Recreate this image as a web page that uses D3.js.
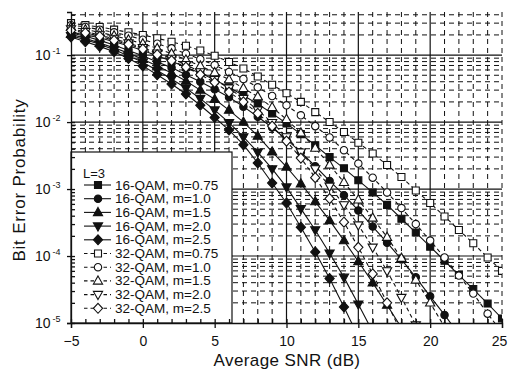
<!DOCTYPE html>
<html>
<head>
<meta charset="utf-8">
<script src="https://cdn.jsdelivr.net/npm/d3@7"></script>
<style>
  body { margin: 0; background: #fff; }
  svg { display: block; font-family: "Liberation Sans", Arial, sans-serif; }
</style>
</head>
<body>
<div id="chart"></div>
<script>
// average SNR in dB, one point per dB
var snrDb = [-5, -4, -3, -2, -1, 0, 1, 2, 3, 4, 5, 6, 7, 8, 9, 10,
             11, 12, 13, 14, 15, 16, 17, 18, 19, 20, 21, 22, 23, 24, 25];

// bit error probability (starting at -5 dB)
var ber16m075 = [2.2e-1, 2.0e-1, 1.82e-1, 1.58e-1, 1.38e-1, 1.17e-1, 9.8e-2, 8.1e-2, 6.6e-2, 5.4e-2,
                 4.3e-2, 3.3e-2, 2.5e-2, 1.86e-2, 1.35e-2, 9.5e-3, 6.6e-3, 4.5e-3, 3.0e-3, 2.04e-3,
                 1.35e-3, 8.9e-4, 5.8e-4, 3.6e-4, 2.24e-4, 1.38e-4, 8.5e-5, 5.2e-5, 3.2e-5, 1.95e-5, 1.17e-5];
var ber16m10 = [2.14e-1, 1.91e-1, 1.66e-1, 1.41e-1, 1.17e-1, 9.8e-2, 7.9e-2, 6.5e-2, 5.1e-2, 4.0e-2,
                3.1e-2, 2.34e-2, 1.70e-2, 1.20e-2, 8.3e-3, 5.5e-3, 3.55e-3, 2.19e-3, 1.32e-3, 8.1e-4,
                4.8e-4, 2.75e-4, 1.58e-4, 8.9e-5, 4.8e-5, 2.5e-5, 1.32e-5, 6.8e-6];
var ber16m15 = [2.04e-1, 1.78e-1, 1.51e-1, 1.29e-1, 1.07e-1, 8.7e-2, 6.9e-2, 5.4e-2, 4.1e-2, 3.0e-2,
                2.19e-2, 1.51e-2, 1.0e-2, 6.2e-3, 3.6e-3, 2.14e-3, 1.2e-3, 6.5e-4, 3.4e-4, 1.7e-4,
                8.3e-5, 4.0e-5, 1.86e-5, 8.5e-6];
var ber16m20 = [1.95e-1, 1.70e-1, 1.45e-1, 1.20e-1, 9.8e-2, 7.8e-2, 5.9e-2, 4.4e-2, 3.2e-2, 2.24e-2,
                1.51e-2, 9.8e-3, 6.0e-3, 3.55e-3, 2.0e-3, 1.07e-3, 5.1e-4, 2.45e-4, 1.1e-4, 4.8e-5,
                1.91e-5, 7.4e-6];
var ber16m25 = [1.86e-1, 1.58e-1, 1.35e-1, 1.12e-1, 8.9e-2, 6.9e-2, 5.1e-2, 3.7e-2, 2.63e-2, 1.78e-2,
                1.17e-2, 7.6e-3, 4.6e-3, 2.45e-3, 1.23e-3, 6.2e-4, 2.69e-4, 1.15e-4, 4.6e-5, 1.74e-5,
                6.2e-6];
var ber32m075 = [3.0e-1, 2.8e-1, 2.63e-1, 2.4e-1, 2.19e-1, 2.0e-1, 1.78e-1, 1.58e-1, 1.38e-1, 1.17e-1,
                 9.8e-2, 7.9e-2, 6.3e-2, 4.8e-2, 3.6e-2, 2.7e-2, 2.0e-2, 1.41e-2, 1.0e-2, 7.1e-3,
                 4.9e-3, 3.4e-3, 2.29e-3, 1.51e-3, 9.5e-4, 6.2e-4, 3.9e-4, 2.45e-4, 1.55e-4, 9.5e-5, 6.0e-5];
var ber32m10 = [2.8e-1, 2.63e-1, 2.4e-1, 2.19e-1, 1.95e-1, 1.70e-1, 1.48e-1, 1.26e-1, 1.05e-1, 8.7e-2,
                7.1e-2, 5.6e-2, 4.4e-2, 3.3e-2, 2.45e-2, 1.78e-2, 1.26e-2, 8.7e-3, 5.9e-3, 3.8e-3,
                2.4e-3, 1.48e-3, 8.9e-4, 5.2e-4, 3.0e-4, 1.7e-4, 9.5e-5, 5.1e-5, 2.75e-5, 1.38e-5, 7.2e-6];
var ber32m15 = [2.63e-1, 2.4e-1, 2.19e-1, 1.95e-1, 1.70e-1, 1.48e-1, 1.26e-1, 1.05e-1, 8.5e-2, 6.9e-2,
                5.5e-2, 4.3e-2, 3.2e-2, 2.4e-2, 1.66e-2, 1.1e-2, 6.9e-3, 4.1e-3, 2.29e-3, 1.26e-3,
                6.9e-4, 3.7e-4, 1.91e-4, 9.3e-5, 4.4e-5, 2.0e-5, 8.7e-6];
var ber32m20 = [2.45e-1, 2.24e-1, 2.0e-1, 1.74e-1, 1.51e-1, 1.29e-1, 1.07e-1, 8.9e-2, 7.2e-2, 5.6e-2,
                4.3e-2, 3.2e-2, 2.24e-2, 1.51e-2, 9.8e-3, 6.0e-3, 3.55e-3, 2.0e-3, 1.1e-3, 5.8e-4,
                2.9e-4, 1.35e-4, 6.0e-5, 2.4e-5, 9.3e-6];
var ber32m25 = [2.34e-1, 2.14e-1, 1.91e-1, 1.66e-1, 1.45e-1, 1.23e-1, 1.02e-1, 8.3e-2, 6.6e-2, 5.1e-2,
                3.9e-2, 2.8e-2, 2.0e-2, 1.35e-2, 8.7e-3, 5.2e-3, 2.9e-3, 1.48e-3, 7.2e-4, 3.2e-4,
                1.35e-4, 5.4e-5, 2.0e-5, 7.1e-6];

var seriesLabels = ["16-QAM, m=0.75", "16-QAM, m=1.0", "16-QAM, m=1.5", "16-QAM, m=2.0", "16-QAM, m=2.5",
                    "32-QAM, m=0.75", "32-QAM, m=1.0", "32-QAM, m=1.5", "32-QAM, m=2.0", "32-QAM, m=2.5"];
var seriesValues = [ber16m075, ber16m10, ber16m15, ber16m20, ber16m25,
                    ber32m075, ber32m10, ber32m15, ber32m20, ber32m25];
var xTicks = [-5, 0, 5, 10, 15, 20, 25];
var yDecades = [1e-1, 1e-2, 1e-3, 1e-4, 1e-5];
var legendTitle = "L=3";

// marker shape for each series, 16-QAM filled / solid, 32-QAM open / dashed
var shapes = ["square", "circle", "up", "down", "diamond", "square", "circle", "up", "down", "diamond"];

var width = 508, height = 374;
var plotL = 71, plotR = 502, plotT = 12, plotB = 323;
var ink = "#111";

var svg = d3.select("#chart").append("svg")
    .attr("width", width)
    .attr("height", height);

var x = d3.scaleLinear().domain([-5, 25]).range([plotL, plotR]);
var y = d3.scaleLog().domain([1e-5, 0.44]).range([plotB, plotT]);

// grid
var grid = svg.append("g");
grid.selectAll(".vgrid")
    .data(d3.range(-4, 26))
    .join("line")
    .attr("x1", d => x(d)).attr("x2", d => x(d))
    .attr("y1", plotT).attr("y2", plotB)
    .attr("stroke", ink)
    .attr("stroke-width", d => d % 5 === 0 && d < 25 ? 1.2 : 1)
    .attr("stroke-dasharray", d => d % 5 === 0 && d < 25 ? null : "5,4");

var yTickVals = y.ticks().filter(v => v < 0.44);
grid.selectAll(".hgrid")
    .data(yTickVals.filter(v => v > 1e-5))
    .join("line")
    .attr("x1", plotL).attr("x2", plotR)
    .attr("y1", d => y(d)).attr("y2", d => y(d))
    .attr("stroke", ink)
    .attr("stroke-width", d => yDecades.includes(d) ? 1.2 : 1)
    .attr("stroke-dasharray", d => yDecades.includes(d) ? null : "5,4");

// marker shapes
function markerPath(type) {
  var p = d3.path();
  if (type === "square") {
    p.rect(-3.5, -3.5, 7, 7);
  } else if (type === "circle") {
    p.arc(0, 0, 3.7, 0, 2 * Math.PI); p.closePath();
  } else if (type === "up") {
    p.moveTo(0, -5); p.lineTo(4.6, 3.2); p.lineTo(-4.6, 3.2); p.closePath();
  } else if (type === "down") {
    p.moveTo(0, 5); p.lineTo(4.6, -3.2); p.lineTo(-4.6, -3.2); p.closePath();
  } else {
    p.moveTo(0, -5); p.lineTo(4.6, 0); p.lineTo(0, 5); p.lineTo(-4.6, 0); p.closePath();
  }
  return p.toString();
}

svg.append("clipPath").attr("id", "plotclip")
  .append("rect")
    .attr("x", 55).attr("y", 0)
    .attr("width", plotR - 55).attr("height", plotB);

var line = d3.line()
    .x(d => x(d[0]))
    .y(d => y(d[1]));

var curves = svg.append("g").attr("clip-path", "url(#plotclip)");

seriesValues.forEach(function (vals, i) {
  var pts = vals.map((v, j) => [snrDb[j], v]);
  var open = i >= 5;
  curves.append("path")
      .datum(pts)
      .attr("d", line)
      .attr("fill", "none")
      .attr("stroke", ink)
      .attr("stroke-width", 1.1)
      .attr("stroke-dasharray", open ? "4,3" : null);
  curves.append("g")
    .selectAll("path")
    .data(pts)
    .join("path")
      .attr("transform", d => "translate(" + x(d[0]) + "," + y(d[1]) + ")")
      .attr("d", markerPath(shapes[i]))
      .attr("fill", open ? "#fff" : ink)
      .attr("stroke", ink)
      .attr("stroke-width", 1.1);
});

// legend box
var legend = svg.append("g");
legend.append("rect")
    .attr("x", plotL).attr("y", 152)
    .attr("width", 232 - plotL).attr("height", plotB - 152)
    .attr("fill", "#fff")
    .attr("stroke", ink)
    .attr("stroke-width", 1.2);
legend.append("text")
    .attr("x", 83).attr("y", 178)
    .attr("font-size", 13)
    .attr("fill", ink)
    .text(legendTitle);

var rows = legend.selectAll(".row")
    .data(seriesLabels)
    .join("g")
    .attr("transform", (d, i) => "translate(0," + (185 + i * 13.7) + ")");
rows.append("line")
    .attr("x1", 84).attr("x2", 111)
    .attr("stroke", ink)
    .attr("stroke-width", 1.1)
    .attr("stroke-dasharray", (d, i) => i >= 5 ? "3.5,3" : null);
rows.append("path")
    .attr("transform", "translate(98,0)")
    .attr("d", (d, i) => markerPath(shapes[i]))
    .attr("fill", (d, i) => i >= 5 ? "#fff" : ink)
    .attr("stroke", ink)
    .attr("stroke-width", 1.1);
rows.append("text")
    .attr("x", 115).attr("y", 4.5)
    .attr("font-size", 13.5)
    .attr("fill", ink)
    .text(d => d);

// axes
var xMinor = d3.axisBottom(x).tickValues(d3.range(-5, 26)).tickSize(-4).tickFormat("");
var xMajor = d3.axisBottom(x).tickValues(xTicks).tickSize(5).tickPadding(8);
svg.append("g").attr("transform", "translate(0," + plotB + ")").call(xMinor)
    .call(g => g.select(".domain").remove());
var xg = svg.append("g").attr("transform", "translate(0," + plotB + ")").call(xMajor);
xg.selectAll("text").attr("font-size", 14).attr("font-family", null).attr("fill", ink)
    .attr("dx", d => d === 25 ? -3 : null);

var yMinor = d3.axisLeft(y).tickValues(yTickVals).tickSize(-4).tickFormat("");
var yMajor = d3.axisLeft(y).tickValues(yDecades).tickSize(4).tickFormat("");
svg.append("g").attr("transform", "translate(" + plotL + ",0)").call(yMinor)
    .call(g => g.select(".domain").remove());
svg.append("g").attr("transform", "translate(" + plotL + ",0)").call(yMajor);

svg.selectAll(".domain, .tick line").attr("stroke", ink).attr("stroke-width", 1.3);

var yLab = svg.append("g").selectAll("text")
    .data(yDecades)
    .join("text")
    .attr("x", 35)
    .attr("y", d => y(d) + 5)
    .attr("font-size", 14)
    .attr("fill", ink);
yLab.append("tspan").text("10");
yLab.append("tspan")
    .attr("dx", 2).attr("dy", -6)
    .attr("font-size", 9)
    .text(d => "-" + Math.round(-Math.log10(d)));

// axis titles
svg.append("text")
    .attr("x", 287).attr("y", 366)
    .attr("text-anchor", "middle")
    .attr("font-size", 17)
    .attr("letter-spacing", 0.4)
    .attr("fill", ink)
    .text("Average SNR (dB)");
svg.append("text")
    .attr("transform", "translate(24.5,180) rotate(-90)")
    .attr("text-anchor", "middle")
    .attr("font-size", 17)
    .attr("letter-spacing", 0.8)
    .attr("fill", ink)
    .text("Bit Error Probability");
</script>
</body>
</html>
